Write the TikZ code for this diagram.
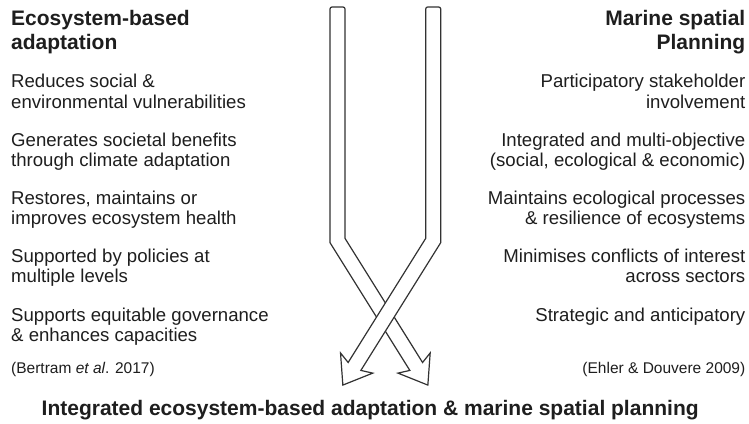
\documentclass[tikz,border=0pt]{standalone}
\usepackage{fontspec}
\setmainfont{Liberation Sans}
\definecolor{ink}{RGB}{30,30,30}
\definecolor{linecol}{RGB}{50,50,50}
\newcommand{\headfont}{\fontsize{21}{24}\selectfont\bfseries}
\newcommand{\bodyfont}{\fontsize{18.6}{20.5}\selectfont}
\newcommand{\reffont}{\fontsize{15.5}{18}\selectfont}
\begin{document}
\begin{tikzpicture}[x=1pt,y=-1pt,
  lt/.style={anchor=base west, inner sep=0pt, text=ink, font=\bodyfont},
  rt/.style={anchor=base east, inner sep=0pt, text=ink, font=\bodyfont},
  hl/.style={anchor=base west, inner sep=0pt, text=ink, font=\headfont},
  hr/.style={anchor=base east, inner sep=0pt, text=ink, font=\headfont},
  refl/.style={anchor=base west, inner sep=0pt, text=ink, font=\reffont},
  refr/.style={anchor=base east, inner sep=0pt, text=ink, font=\reffont},
  bigarrow/.style={draw=linecol, fill=white, line width=1.2pt, line join=miter, miter limit=10}]
\useasboundingbox (0,0) rectangle (749,423);
\fill[white] (0,0) rectangle (749,423);

% left column
\node[hl] (lh1) at (11,25) {Ecosystem-based};
\node[hl] (lh2) at (11,49) {adaptation};
\node[lt] (l1a) at (11,87.3) {Reduces social \&};
\node[lt] (l1b) at (11,108.3) {environmental vulnerabilities};
\node[lt] (l2a) at (11,146.7) {Generates societal benefits};
\node[lt] (l2b) at (11,166.7) {through climate adaptation};
\node[lt] (l3a) at (11,204) {Restores, maintains or};
\node[lt] (l3b) at (11,224) {improves ecosystem health};
\node[lt] (l4a) at (11,262.3) {Supported by policies at};
\node[lt] (l4b) at (11,282.7) {multiple levels};
\node[lt] (l5a) at (11,321.7) {Supports equitable governance};
\node[lt] (l5b) at (11,341.7) {\& enhances capacities};
\node[refl] (lref) at (11,373.3) {(Bertram \textit{et al}. 2017)};

% right column
\node[hr] (rh1) at (745.5,25) {Marine spatial};
\node[hr] (rh2) at (745.5,49.5) {Planning};
\node[rt] (r1a) at (745.5,87.3) {Participatory stakeholder};
\node[rt] (r1b) at (745.5,108.3) {involvement};
\node[rt] (r2a) at (745.5,146.7) {Integrated and multi-objective};
\node[rt] (r2b) at (745.5,166.7) {(social, ecological \& economic)};
\node[rt] (r3a) at (745.5,204) {Maintains ecological processes};
\node[rt] (r3b) at (745.5,224) {\& resilience of ecosystems};
\node[rt] (r4a) at (745.5,262.3) {Minimises conflicts of interest};
\node[rt] (r4b) at (745.5,282.7) {across sectors};
\node[rt] (r5a) at (745.5,321.7) {Strategic and anticipatory};
\node[refr] (rref) at (745.5,373.3) {(Ehler \& Douvere 2009)};

% bottom title
\node[hl] (bottom) at (41.5,415) {Integrated ecosystem-based adaptation \& marine spatial planning};

% left arrow (goes down to the right), drawn first
\draw[bigarrow] (330,242.65) [rounded corners=2pt] -- (330,7) -- (345,7) [sharp corners] -- (345,238.35)
  -- (422.55,362.47) -- (430.18,352.97) -- (427.85,385.09) -- (397.96,373.11) -- (409.83,370.41) -- cycle;
% right arrow (goes down to the left), on top
\draw[bigarrow] (440.7,242.65) [rounded corners=2pt] -- (440.7,7) -- (425.7,7) [sharp corners] -- (425.7,238.35)
  -- (348.15,362.47) -- (340.52,352.97) -- (342.85,385.09) -- (372.74,373.11) -- (360.87,370.41) -- cycle;
\end{tikzpicture}
\end{document}
